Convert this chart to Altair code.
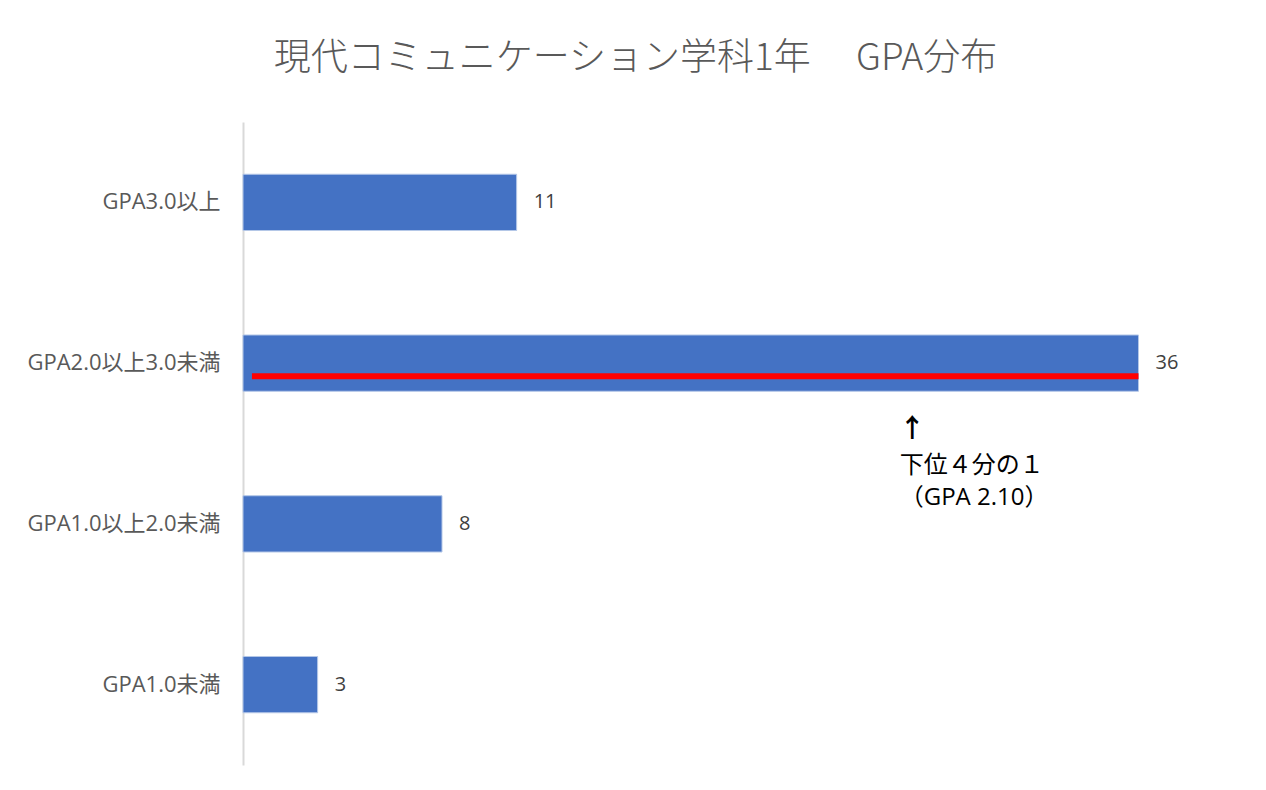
import altair as alt
import pandas as pd

categories = ["GPA3.0以上", "GPA2.0以上3.0未満", "GPA1.0以上2.0未満", "GPA1.0未満"]
counts = [11, 36, 8, 3]

title_text = "現代コミュニケーション学科1年　 GPA分布"

marker_category = "GPA2.0以上3.0未満"
marker_start = [0.36]
marker_end = [36]
annot_x = [26.4]
arrow_x = [26.9]
annot_lines = ["↑", "下位４分の１", "（GPA 2.10）"]

df = pd.DataFrame({"cat": categories, "n": counts})
mk = pd.DataFrame({"cat": [marker_category], "x0": marker_start, "x1": marker_end})
an = pd.DataFrame({"cat": [marker_category], "xa": arrow_x, "xt": annot_x})

FONT = "Noto Sans CJK JP"
LFONT = "Open Sans, Noto Sans CJK JP"

yenc = alt.Y("cat:N", sort=categories, title=None,
             scale=alt.Scale(paddingInner=0.65, paddingOuter=0.325),
             axis=alt.Axis(domainColor="#d9d9d9", domainWidth=2, ticks=False,
                           labelFont=LFONT, labelFontSize=22, labelColor="#595959",
                           labelPadding=23, labelLimit=300))
xscale = alt.Scale(domain=[0, 40], nice=False, zero=True)
xenc = alt.X("n:Q", scale=xscale, axis=None)

bars = alt.Chart(df).mark_bar(color="#4472C4", stroke="#b4c7e7", strokeWidth=1).encode(x=xenc, y=yenc)
labels = alt.Chart(df).mark_text(align="left", dx=17, font=LFONT, fontSize=20, color="#404040").encode(
    x=xenc, y=alt.Y("cat:N", sort=categories), text="n:Q")

rule = alt.Chart(mk).mark_rule(color="#FF0000", strokeWidth=6, yOffset=13).encode(
    x=alt.X("x0:Q", scale=xscale, axis=None), x2="x1:Q",
    y=alt.Y("cat:N", sort=categories))

arrow = alt.Chart(an).mark_text(text=annot_lines[0], font=FONT, fontSize=26, fontWeight="bold",
                                 color="#000000", align="center", baseline="middle", dy=66).encode(
    x=alt.X("xa:Q", scale=xscale, axis=None), y=alt.Y("cat:N", sort=categories))
line1 = alt.Chart(an).mark_text(text=annot_lines[1], font=FONT, fontSize=24, color="#000000",
                                 align="left", baseline="middle", dy=103).encode(
    x=alt.X("xt:Q", scale=xscale, axis=None), y=alt.Y("cat:N", sort=categories))
line2 = alt.Chart(an).mark_text(text=annot_lines[2], font=LFONT, fontSize=24, color="#000000",
                                 align="left", baseline="middle", dy=135).encode(
    x=alt.X("xt:Q", scale=xscale, axis=None), y=alt.Y("cat:N", sort=categories))

chart = alt.layer(bars, rule, labels, arrow, line1, line2).properties(
    width=995, height=643,
    background="white",
    title=alt.TitleParams(title_text, font=FONT, fontSize=37, fontWeight=300,
                          color="#595959", anchor="middle", dx=-105, offset=44),
    autosize=alt.AutoSizeParams(type="none"),
    padding={"left": 235, "top": 114, "right": 20, "bottom": 20},
).configure_view(stroke=None, strokeWidth=0)

chart.save("out.html", embed_options={"renderer": "svg", "actions": False})
